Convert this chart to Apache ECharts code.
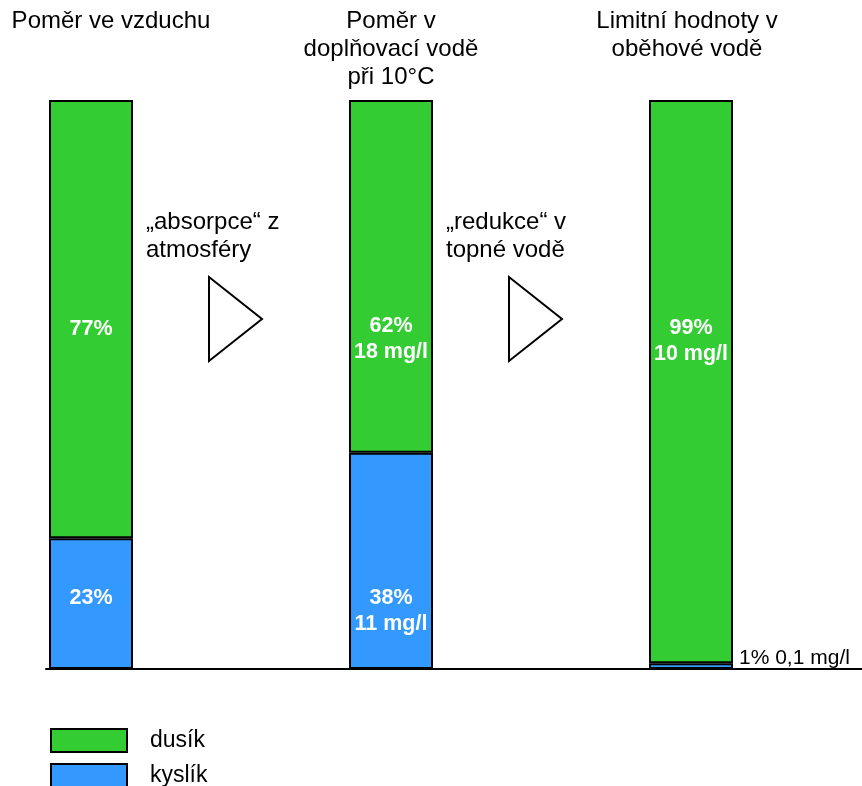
<!DOCTYPE html>
<html>
<head>
<meta charset="utf-8">
<script src="https://cdn.jsdelivr.net/npm/echarts@6/dist/echarts.min.js"></script>
<style>
  html, body { margin: 0; padding: 0; background: #fff; }
  #chart { width: 862px; height: 786px; }
</style>
</head>
<body>
<div id="chart"></div>
<script>
// Stage titles above the three columns
const stageTitles = [
  'Poměr ve vzduchu',
  'Poměr v\ndoplňovací vodě\npři 10°C',
  'Limitní hodnoty v\noběhové vodě'
];
// Column positions along the horizontal axis (stage index)
const stagePos = [0, 1, 2];
// Transition captions between the columns
const transitions = ['„absorpce“ z\natmosféry', '„redukce“ v\ntopné vodě'];

// Share of each gas in percent (stacked, bottom to top: kyslík, dusík)
const kyslikPct = [23, 38, 1];
const dusikPct = [77, 62, 99];
// Dissolved concentration in mg/l (none for air)
const kyslikMg = [null, 11, 0.1];
const dusikMg = [null, 18, 10];

const FONT = '"Liberation Sans", Arial, sans-serif';
const GREEN = '#33CC33';
const BLUE = '#3399FF';

function fmtMg(v) {
  return String(v).replace('.', ',') + ' mg/l';
}
function labelText(pct, mg) {
  return mg == null ? pct + '%' : pct + '%\n' + fmtMg(mg);
}

// vertical nudges of the in-bar labels
const dusikLabelShift = [10, 63, -41];
const kyslikLabelShift = [-5, 50, 0];

const inBarLabel = {
  show: true,
  position: 'inside',
  color: '#fff',
  fontWeight: 'bold',
  fontSize: 21.5,
  lineHeight: 26,
  fontFamily: FONT
};

// items are [percent, stage] so the percent column is the stacked one
const kyslikData = kyslikPct.map((v, i) => {
  if (i === 2) {
    return {
      value: [v, stagePos[i]],
      label: {
        show: true,
        position: 'right',
        distance: 6,
        offset: [0, -8],
        color: '#000',
        fontWeight: 'normal',
        fontSize: 21,
        fontFamily: FONT,
        formatter: kyslikPct[i] + '% ' + fmtMg(kyslikMg[i])
      }
    };
  }
  return {
    value: [v, stagePos[i]],
    label: Object.assign({}, inBarLabel, {
      offset: [0, kyslikLabelShift[i]],
      formatter: labelText(kyslikPct[i], kyslikMg[i])
    })
  };
});

const dusikData = dusikPct.map((v, i) => ({
  value: [v, stagePos[i]],
  label: Object.assign({}, inBarLabel, {
    offset: [0, dusikLabelShift[i]],
    formatter: labelText(dusikPct[i], dusikMg[i])
  })
}));

const chart = echarts.init(document.getElementById('chart'));

const legendBase = {
  orient: 'vertical',
  left: 50,
  padding: 0,
  icon: 'rect',
  itemWidth: 76,
  itemHeight: 23
};

const option = {
  animation: false,
  backgroundColor: '#fff',
  grid: { left: 46, right: 0, top: 100, bottom: 117 },
  xAxis: {
    type: 'value',
    min: -0.15,
    max: 2.57,
    axisLine: { show: true, onZero: false, lineStyle: { color: '#000', width: 2 } },
    axisTick: { show: false },
    axisLabel: { show: false },
    splitLine: { show: false }
  },
  yAxis: { type: 'value', min: 0, max: 100, show: false, splitLine: { show: false } },
  legend: [
    Object.assign({}, legendBase, {
      data: ['dusík'],
      top: 728,
      textStyle: { fontSize: 23, color: '#000', fontFamily: FONT, padding: [3, 0, 0, 18] }
    }),
    Object.assign({}, legendBase, {
      data: ['kyslík'],
      top: 763,
      textStyle: { fontSize: 23, color: '#000', fontFamily: FONT, padding: [0, 0, 6, 18] }
    })
  ],
  series: [
    {
      name: 'kyslík',
      type: 'bar',
      stack: 'plyn',
      encode: { x: 1, y: 0 },
      barWidth: 84,
      itemStyle: { color: BLUE, borderColor: '#000', borderWidth: 2 },
      data: kyslikData
    },
    {
      name: 'dusík',
      type: 'bar',
      stack: 'plyn',
      encode: { x: 1, y: 0 },
      barWidth: 84,
      itemStyle: { color: GREEN, borderColor: '#000', borderWidth: 2 },
      data: dusikData
    }
  ]
};

chart.setOption(option);

// Titles, captions and arrows placed relative to the column centres
const centers = stagePos.map(p => chart.convertToPixel({ xAxisIndex: 0 }, p));
const titleX = [centers[0] + 20, centers[1], centers[2] - 4];

const graphics = [];
stageTitles.forEach((t, i) => {
  graphics.push({
    type: 'text',
    x: titleX[i],
    y: 7,
    style: {
      text: t,
      font: '24px ' + FONT,
      lineHeight: 28,
      fill: '#000',
      align: 'center',
      verticalAlign: 'top'
    }
  });
});
transitions.forEach((t, i) => {
  const cx = centers[i];
  graphics.push({
    type: 'text',
    x: cx + 55,
    y: 208,
    style: {
      text: t,
      font: '24px ' + FONT,
      lineHeight: 28,
      fill: '#000',
      align: 'left',
      verticalAlign: 'top'
    }
  });
  graphics.push({
    type: 'polygon',
    shape: { points: [[cx + 118, 277], [cx + 118, 361], [cx + 171, 319]] },
    style: { fill: '#fff', stroke: '#000', lineWidth: 2 }
  });
});
chart.setOption({ graphic: graphics });
</script>
</body>
</html>
